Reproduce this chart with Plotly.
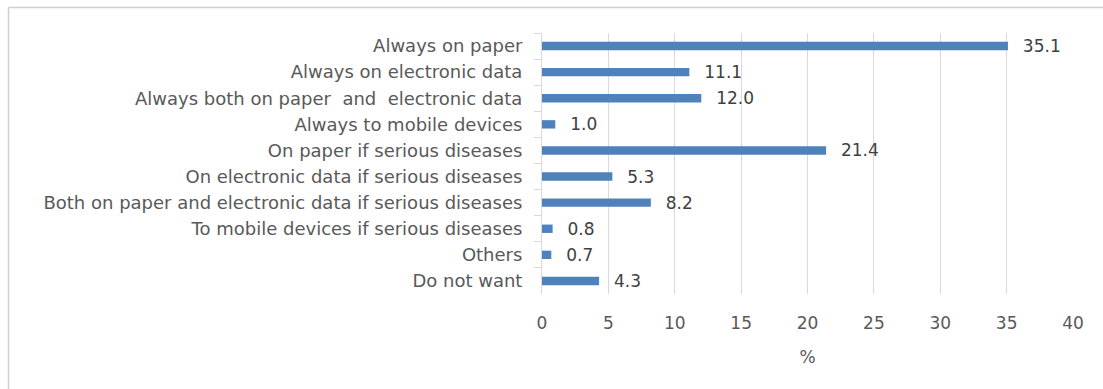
import plotly.graph_objects as go

categories = [
    "Always on paper",
    "Always on electronic data",
    "Always both on paper  and  electronic data",
    "Always to mobile devices",
    "On paper if serious diseases",
    "On electronic data if serious diseases",
    "Both on paper and electronic data if serious diseases",
    "To mobile devices if serious diseases",
    "Others",
    "Do not want",
]
values = [35.1, 11.1, 12.0, 1.0, 21.4, 5.3, 8.2, 0.8, 0.7, 4.3]
x_ticks = [0, 5, 10, 15, 20, 25, 30, 35, 40]

font_family = "DejaVu Sans, sans-serif"
text_color = "#595959"
FS = 17

fig = go.Figure(
    go.Bar(
        x=values,
        y=categories,
        orientation="h",
        marker=dict(color="#4f81bd", line=dict(width=0)),
        width=0.32,
        text=["\u2002\u2009" + f"{v:.1f}" for v in values],
        textposition="outside",
        constraintext="none",
        textfont=dict(family=font_family, size=FS, color="#404040"),
        cliponaxis=False,
    )
)

fig.update_layout(
    width=1103,
    height=389,
    margin=dict(l=542, r=30, t=33, b=95),
    paper_bgcolor="white",
    plot_bgcolor="white",
    showlegend=False,
    font=dict(family=font_family, size=FS, color=text_color),
    xaxis=dict(
        range=[0, 40],
        tickvals=x_ticks,
        ticktext=[str(t) for t in x_ticks],
        showgrid=True,
        gridcolor="#d9d9d9",
        gridwidth=1,
        zeroline=False,
        showline=False,
        ticks="",
        ticklabelstandoff=17,
        tickfont=dict(size=FS, color=text_color),
        title=dict(text="%", font=dict(size=FS, color=text_color), standoff=19),
    ),
    yaxis=dict(
        categoryorder="array",
        categoryarray=categories,
        autorange="reversed",
        showgrid=False,
        zeroline=False,
        showline=True,
        linecolor="#d9d9d9",
        linewidth=1,
        ticks="outside",
        tickson="boundaries",
        ticklen=7,
        tickcolor="#d9d9d9",
        ticklabelstandoff=15,
        tickfont=dict(size=18, color=text_color),
    ),
)

# outer border (left and top edges)
border_y = (389 - 95 - 7.5) / 261
border_x = (8.5 - 542) / 531
fig.add_shape(type="line", xref="paper", yref="paper",
              x0=border_x, x1=border_x, y0=border_y, y1=-95 / 261,
              line=dict(color="#d0d0d0", width=1.5))
fig.add_shape(type="line", xref="paper", yref="paper",
              x0=border_x, x1=(1103 - 542) / 531,
              y0=border_y, y1=border_y,
              line=dict(color="#d0d0d0", width=1.5))

fig.write_html("out.html")
